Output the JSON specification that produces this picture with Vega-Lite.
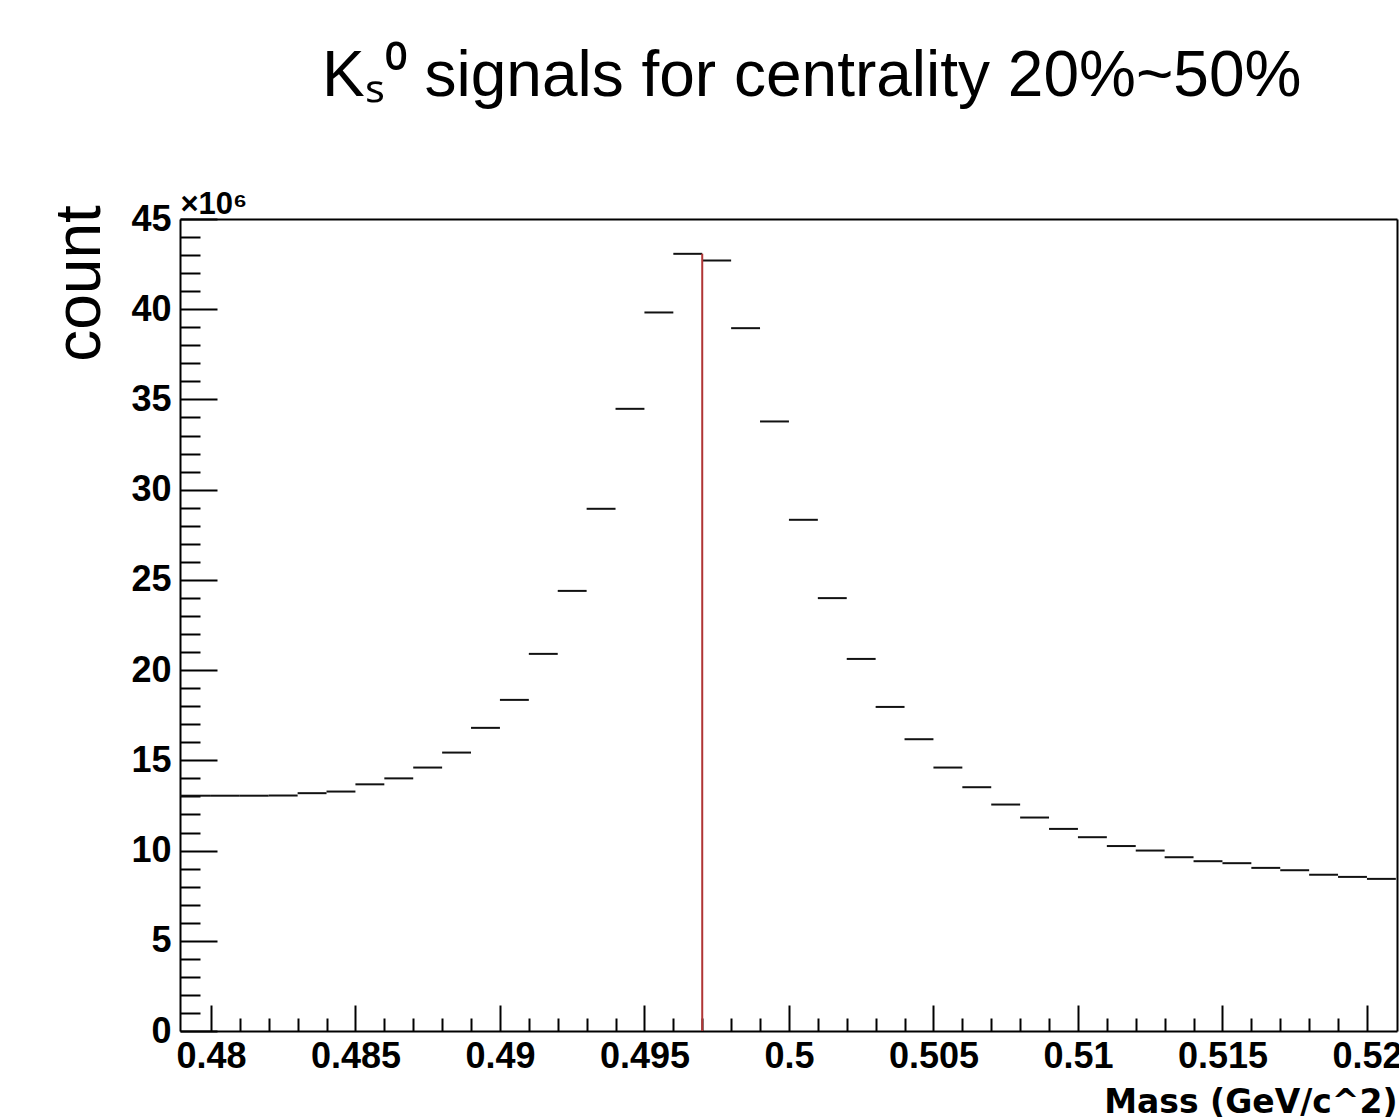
{
  "$schema": "https://vega.github.io/schema/vega-lite/v6.json",
  "width": 1217,
  "height": 812,
  "autosize": {"type": "none"},
  "padding": {"left": 180, "top": 219, "right": 2, "bottom": 86},
  "background": "white",
  "config": {"view": {"stroke": null}, "axis": {"grid": false}},
  "title": {
    "text": "Kₛ⁰ signals for centrality 20%~50%",
    "anchor": "start",
    "frame": "group",
    "dx": 142,
    "dy": -28,
    "offset": 0,
    "baseline": "alphabetic",
    "font": "Liberation Sans",
    "fontSize": 64,
    "fontWeight": "normal",
    "color": "black"
  },
  "datasets": {
    "bins": [
      {"lo": 0.478, "hi": 0.479, "count": 13.04},
      {"lo": 0.479, "hi": 0.480, "count": 13.04},
      {"lo": 0.480, "hi": 0.481, "count": 13.04},
      {"lo": 0.481, "hi": 0.482, "count": 13.04},
      {"lo": 0.482, "hi": 0.483, "count": 13.05},
      {"lo": 0.483, "hi": 0.484, "count": 13.18},
      {"lo": 0.484, "hi": 0.485, "count": 13.27},
      {"lo": 0.485, "hi": 0.486, "count": 13.67},
      {"lo": 0.486, "hi": 0.487, "count": 14.0},
      {"lo": 0.487, "hi": 0.488, "count": 14.6},
      {"lo": 0.488, "hi": 0.489, "count": 15.43},
      {"lo": 0.489, "hi": 0.490, "count": 16.8},
      {"lo": 0.490, "hi": 0.491, "count": 18.35},
      {"lo": 0.491, "hi": 0.492, "count": 20.9},
      {"lo": 0.492, "hi": 0.493, "count": 24.39},
      {"lo": 0.493, "hi": 0.494, "count": 28.94},
      {"lo": 0.494, "hi": 0.495, "count": 34.48},
      {"lo": 0.495, "hi": 0.496, "count": 39.82},
      {"lo": 0.496, "hi": 0.497, "count": 43.07},
      {"lo": 0.497, "hi": 0.498, "count": 42.70},
      {"lo": 0.498, "hi": 0.499, "count": 38.95},
      {"lo": 0.499, "hi": 0.500, "count": 33.78},
      {"lo": 0.500, "hi": 0.501, "count": 28.33},
      {"lo": 0.501, "hi": 0.502, "count": 23.99},
      {"lo": 0.502, "hi": 0.503, "count": 20.62},
      {"lo": 0.503, "hi": 0.504, "count": 17.96},
      {"lo": 0.504, "hi": 0.505, "count": 16.17},
      {"lo": 0.505, "hi": 0.506, "count": 14.60},
      {"lo": 0.506, "hi": 0.507, "count": 13.51},
      {"lo": 0.507, "hi": 0.508, "count": 12.55},
      {"lo": 0.508, "hi": 0.509, "count": 11.83},
      {"lo": 0.509, "hi": 0.510, "count": 11.20},
      {"lo": 0.510, "hi": 0.511, "count": 10.74},
      {"lo": 0.511, "hi": 0.512, "count": 10.25},
      {"lo": 0.512, "hi": 0.513, "count": 10.00},
      {"lo": 0.513, "hi": 0.514, "count": 9.63},
      {"lo": 0.514, "hi": 0.515, "count": 9.41},
      {"lo": 0.515, "hi": 0.516, "count": 9.30},
      {"lo": 0.516, "hi": 0.517, "count": 9.04},
      {"lo": 0.517, "hi": 0.518, "count": 8.91},
      {"lo": 0.518, "hi": 0.519, "count": 8.66},
      {"lo": 0.519, "hi": 0.520, "count": 8.54},
      {"lo": 0.520, "hi": 0.521, "count": 8.43}
    ],
    "marker": [{"mass": 0.497, "base": 0, "top": 43.07}]
  },
  "resolve": {"axis": {"x": "independent", "y": "independent"}},
  "layer": [
    {
      "data": {"name": "bins"},
      "mark": {"type": "rule", "color": "#111111", "strokeWidth": 2, "clip": true},
      "encoding": {
        "x": {
          "field": "lo",
          "type": "quantitative",
          "scale": {"domain": [0.47893, 0.52104], "nice": false, "zero": false},
          "axis": {
            "orient": "bottom",
            "values": [0.480, 0.481, 0.482, 0.483, 0.484, 0.485, 0.486, 0.487, 0.488, 0.489, 0.490, 0.491, 0.492, 0.493, 0.494, 0.495, 0.496, 0.497, 0.498, 0.499, 0.500, 0.501, 0.502, 0.503, 0.504, 0.505, 0.506, 0.507, 0.508, 0.509, 0.510, 0.511, 0.512, 0.513, 0.514, 0.515, 0.516, 0.517, 0.518, 0.519, 0.520],
            "labelExpr": "round(datum.value*1000) % 5 === 0 ? format(datum.value, '~g') : ''",
            "tickSize": {"condition": {"test": "round(datum.value*1000) % 5 === 0", "value": -26}, "value": -13},
            "tickWidth": 2,
            "tickColor": "black",
            "labelPadding": 34,
            "labelFont": "Liberation Sans",
            "labelFontSize": 36,
            "labelFontWeight": "bold",
            "labelColor": "black",
            "labelOverlap": false,
            "labelFlush": false,
            "labelBound": false,
            "domainColor": "black",
            "domainWidth": 2,
            "title": "Mass (GeV/c^2)",
            "titleFont": "DejaVu Sans",
            "titleFontSize": 33,
            "titleFontWeight": "bold",
            "titleColor": "black",
            "titleAnchor": "end",
            "titleAlign": "right",
            "titleBaseline": "alphabetic",
            "titleX": 1217,
            "titleY": 81
          }
        },
        "x2": {"field": "hi"},
        "y": {
          "field": "count",
          "type": "quantitative",
          "scale": {"domain": [0, 45], "nice": false, "zero": true},
          "axis": {
            "orient": "left",
            "values": [0, 1, 2, 3, 4, 5, 6, 7, 8, 9, 10, 11, 12, 13, 14, 15, 16, 17, 18, 19, 20, 21, 22, 23, 24, 25, 26, 27, 28, 29, 30, 31, 32, 33, 34, 35, 36, 37, 38, 39, 40, 41, 42, 43, 44, 45],
            "labelExpr": "datum.value % 5 === 0 ? format(datum.value, 'd') : ''",
            "tickSize": {"condition": {"test": "datum.value % 5 === 0", "value": -37}, "value": -20},
            "tickWidth": 2,
            "tickColor": "black",
            "labelPadding": 46,
            "labelFont": "Liberation Sans",
            "labelFontSize": 36,
            "labelFontWeight": "bold",
            "labelColor": "black",
            "labelOverlap": false,
            "labelFlush": false,
            "labelBound": false,
            "domainColor": "black",
            "domainWidth": 2,
            "title": "count",
            "titleFont": "Liberation Sans",
            "titleFontSize": 64,
            "titleFontWeight": "normal",
            "titleColor": "black",
            "titleAngle": -90,
            "titleAlign": "center",
            "titleBaseline": "alphabetic",
            "titleX": -81,
            "titleY": 64
          }
        }
      }
    },
    {
      "data": {"name": "marker"},
      "mark": {"type": "rule", "color": "#b03535", "strokeWidth": 2},
      "encoding": {
        "x": {
          "field": "mass",
          "type": "quantitative",
          "scale": {"domain": [0.47893, 0.52104], "nice": false, "zero": false},
          "axis": {
            "orient": "top",
            "ticks": false,
            "labels": false,
            "domainColor": "black",
            "domainWidth": 2,
            "title": "×10⁶",
            "titleFont": "Liberation Sans",
            "titleFontSize": 31,
            "titleFontWeight": "bold",
            "titleColor": "black",
            "titleAngle": 0,
            "titleAlign": "left",
            "titleAnchor": "start",
            "titleBaseline": "alphabetic",
            "titleX": 0,
            "titleY": -6
          }
        },
        "y": {
          "field": "base",
          "type": "quantitative",
          "scale": {"domain": [0, 45], "nice": false, "zero": true},
          "axis": {
            "orient": "right",
            "ticks": false,
            "labels": false,
            "domainColor": "black",
            "domainWidth": 2,
            "title": null
          }
        },
        "y2": {"field": "top"}
      }
    }
  ]
}
